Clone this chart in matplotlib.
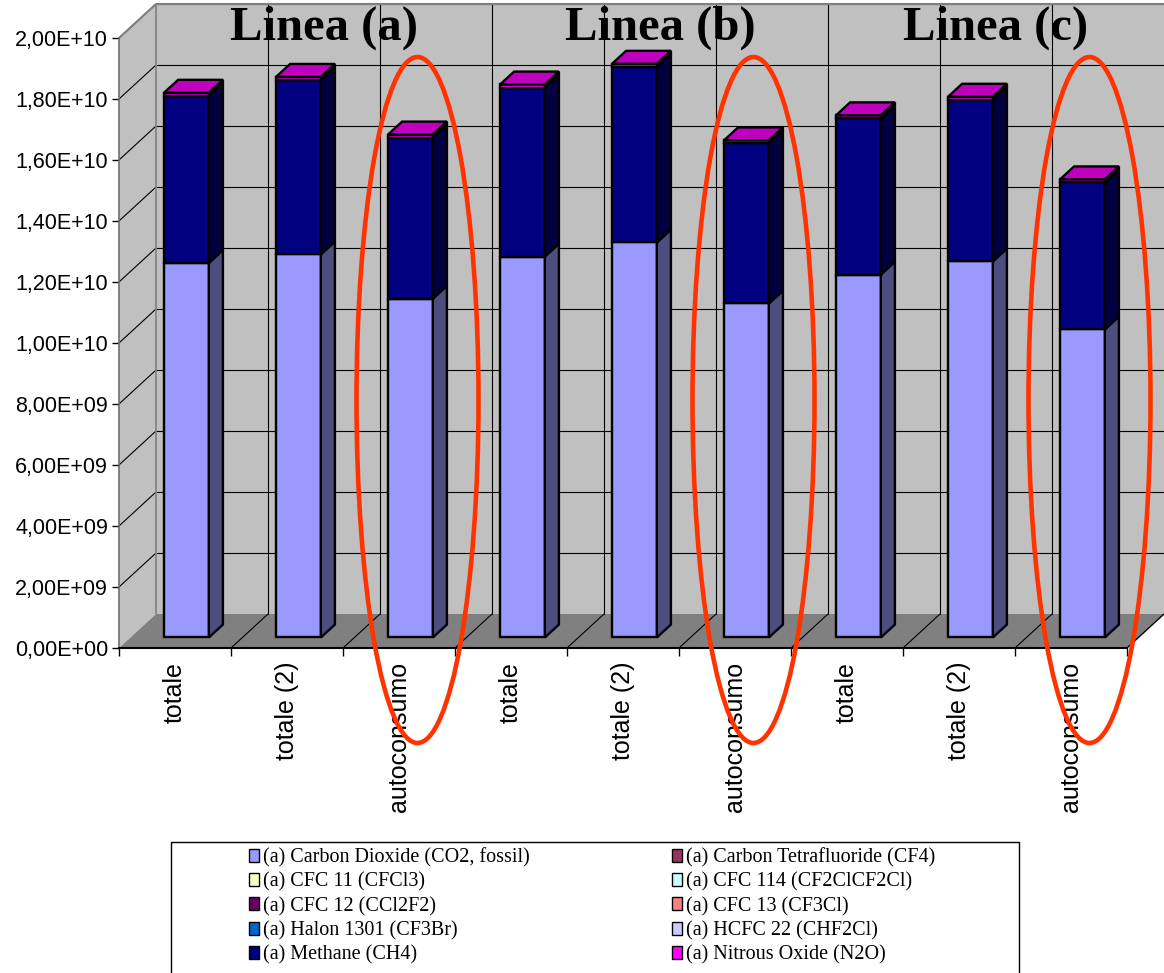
import numpy as np
import matplotlib
matplotlib.use("Agg")
import matplotlib.pyplot as plt
from matplotlib.patches import Polygon, Rectangle, Ellipse, Patch
from matplotlib.transforms import IdentityTransform
from matplotlib.ticker import FuncFormatter, MultipleLocator
from matplotlib.colors import to_rgb

# --- data -------------------------------------------------------------
categories = ["totale", "totale (2)", "autoconsumo",
              "totale", "totale (2)", "autoconsumo",
              "totale", "totale (2)", "autoconsumo"]
groups = ["Linea (a)", "Linea (b)", "Linea (c)"]

co2 = [1.228e10, 1.256e10, 1.111e10, 1.249e10, 1.295e10, 1.095e10, 1.190e10, 1.233e10, 1.010e10]
methane = [5.48e9, 5.72e9, 5.28e9, 5.54e9, 5.76e9, 5.25e9, 5.12e9, 5.30e9, 4.82e9]
n2o = [1.0e8, 1.0e8, 1.0e8, 1.0e8, 1.0e8, 1.0e8, 1.0e8, 1.0e8, 1.0e8]
trace = [0, 0, 0, 0, 0, 0, 0, 0, 0]  # halocarbons, negligible at this scale

gas_labels = ["(a) Carbon Dioxide (CO2, fossil)", "(a) Carbon Tetrafluoride (CF4)",
              "(a) CFC 11 (CFCl3)", "(a) CFC 114 (CF2ClCF2Cl)",
              "(a) CFC 12 (CCl2F2)", "(a) CFC 13 (CF3Cl)",
              "(a) Halon 1301 (CF3Br)", "(a) HCFC 22 (CHF2Cl)",
              "(a) Methane (CH4)", "(a) Nitrous Oxide (N2O)"]
gas_colors = ["#9999FF", "#993366", "#FFFFCC", "#CCFFFF", "#660066",
              "#FF8080", "#0066CC", "#CCCCFF", "#000080", "#FF00FF"]
gas_values = [co2, trace, trace, trace, trace, trace, trace, trace, methane, n2o]

# --- figure / front plane of the 3D box -------------------------------
W, H = 1164, 973
fig = plt.figure(figsize=(W / 100, H / 100), dpi=100)
fig.patch.set_facecolor("white")
ax = fig.add_axes([119 / W, (H - 648) / H, 1008 / W, 610 / H])
ax.set_xlim(0, len(categories))
ax.set_ylim(0, 2e10)
ax.patch.set_visible(False)

DEPTH = (37, 34)        # pixel offset of the back wall
BAR_D = (0.31, 0.69)    # bar front/back as a fraction of depth
BAR_W = 0.4
YMAX = 2e10
n = len(categories)


def proj(x, y, d):
    px, py = ax.transData.transform((x, y))
    return (px + d * DEPTH[0], py + d * DEPTH[1])


def poly(pts, fc, ec, lw, z):
    ax.add_patch(Polygon(pts, closed=True, facecolor=fc, edgecolor=ec, linewidth=lw,
                         transform=IdentityTransform(), clip_on=False, zorder=z,
                         joinstyle="miter"))


def line(p, q, color, lw, z):
    ax.plot([p[0], q[0]], [p[1], q[1]], color=color, lw=lw,
            transform=IdentityTransform(), clip_on=False, zorder=z, solid_capstyle="butt")


# walls and floor
poly([proj(0, 0, 1), proj(n, 0, 1), proj(n, YMAX, 1), proj(0, YMAX, 1)], "#C0C0C0", "none", 0, 0.5)
poly([proj(0, 0, 0), proj(0, 0, 1), proj(0, YMAX, 1), proj(0, YMAX, 0)], "#C0C0C0", "none", 0, 0.5)
poly([proj(0, 0, 0), proj(n, 0, 0), proj(n, 0, 1), proj(0, 0, 1)], "#808080", "none", 0, 0.6)

yticks = np.arange(0, YMAX + 1, 2e9)
for v in yticks[1:]:
    line(proj(0, v, 0), proj(0, v, 1), "black", 0.8, 0.8)
    line(proj(0, v, 1), proj(n, v, 1), "black", 0.8, 0.8)
for i in range(1, n):
    line(proj(i, 0, 1), proj(i, YMAX, 1), "black", 0.8, 0.8)
    line(proj(i, 0, 0), proj(i, 0, 1), "black", 0.8, 0.8)
line(proj(0, 0, 1), proj(0, YMAX, 1), "#808080", 1.2, 0.8)
line(proj(0, YMAX, 0), proj(0, YMAX, 1), "#808080", 1.5, 0.8)
line(proj(0, YMAX, 1), proj(n, YMAX, 1), "#808080", 1.5, 0.8)
line(proj(n, 0, 0), proj(n, 0, 1), "black", 1.0, 0.8)


def shade(c, k):
    r, g, b = to_rgb(c)
    return (r * k, g * k, b * k)


def bar3d(x0, x1, y0, y1, color, top, z):
    f, b = BAR_D
    poly([proj(x0, y0, f), proj(x1, y0, f), proj(x1, y1, f), proj(x0, y1, f)],
         color, "black", 1.7, z)
    poly([proj(x1, y0, f), proj(x1, y0, b), proj(x1, y1, b), proj(x1, y1, f)],
         shade(color, 0.5), "black", 1.7, z)
    if top:
        poly([proj(x0, y1, f), proj(x1, y1, f), proj(x1, y1, b), proj(x0, y1, b)],
             shade(color, 0.75), "black", 1.7, z)


for i in range(n):
    x0, x1 = i + 0.5 - BAR_W / 2, i + 0.5 + BAR_W / 2
    segs = [(gas_values[k][i], gas_colors[k]) for k in range(len(gas_labels)) if gas_values[k][i] > 0]
    base = 0
    for j, (v, c) in enumerate(segs):
        bar3d(x0, x1, base, base + v, c, j == len(segs) - 1, 2 + i * 0.01)
        base += v

# axes, ticks, labels
for s in ["top", "right"]:
    ax.spines[s].set_visible(False)
ax.spines["left"].set_color("#707070")
ax.spines["left"].set_linewidth(1.2)
ax.spines["bottom"].set_color("black")
ax.spines["bottom"].set_linewidth(1.5)
ax.spines["left"].set_zorder(3)
ax.spines["bottom"].set_zorder(3)

ax.yaxis.set_major_locator(MultipleLocator(2e9))
ax.yaxis.set_major_formatter(FuncFormatter(lambda v, p: f"{v:.2E}".replace(".", ",")))
ax.tick_params(axis="y", direction="out", length=5, width=1, pad=3,
               labelsize=15.5, colors="black")
ax.set_xticks(np.arange(0, n + 1))
ax.set_xticklabels([])
ax.set_xticks(np.arange(n) + 0.5, minor=True)
ax.set_xticklabels(categories, minor=True, rotation=90, va="top", ha="center")
ax.tick_params(axis="x", which="major", direction="out", length=6, width=1)
ax.tick_params(axis="x", which="minor", length=0, pad=10, labelsize=18)
for t in ax.get_yticklabels() + ax.get_xticklabels(minor=True):
    t.set_fontfamily("Liberation Sans")

# group titles on the back wall
for g, name in enumerate(groups):
    px, py = proj(3 * g + 1.5, YMAX, 1)
    fig.text(px, py - 36, name, transform=IdentityTransform(), ha="center", va="baseline",
             fontsize=35, fontweight="bold", fontfamily="Liberation Serif", zorder=5)

# red rings around the self-consumption columns
for i in [2, 5, 8]:
    cx, _ = proj(i + 0.5, 0, 0.5)
    fig.add_artist(Ellipse((cx, H - 400), 122, 686, transform=IdentityTransform(),
                           fill=False, edgecolor="#FF3300", linewidth=3.3, zorder=6))

# legend box with two columns
fig.add_artist(Rectangle((171, -5), 848, H - 842 + 5, transform=IdentityTransform(),
                         fill=False, edgecolor="black", linewidth=1.0, zorder=4))
handles = [Patch(facecolor=c, edgecolor="black", linewidth=1.0) for c in gas_colors]
for col, xpos in enumerate([249, 672]):
    idx = list(range(col, len(gas_labels), 2))
    leg = fig.legend([handles[k] for k in idx], [gas_labels[k] for k in idx],
                     loc="upper left", bbox_to_anchor=(xpos, H - 848),
                     bbox_transform=IdentityTransform(), frameon=False,
                     prop={"family": "Liberation Serif", "size": 14.5},
                     borderpad=0, borderaxespad=0, handlelength=0.5, handleheight=0.62,
                     handletextpad=0.2, labelspacing=0.25)

fig.savefig("out.png", dpi=100)
